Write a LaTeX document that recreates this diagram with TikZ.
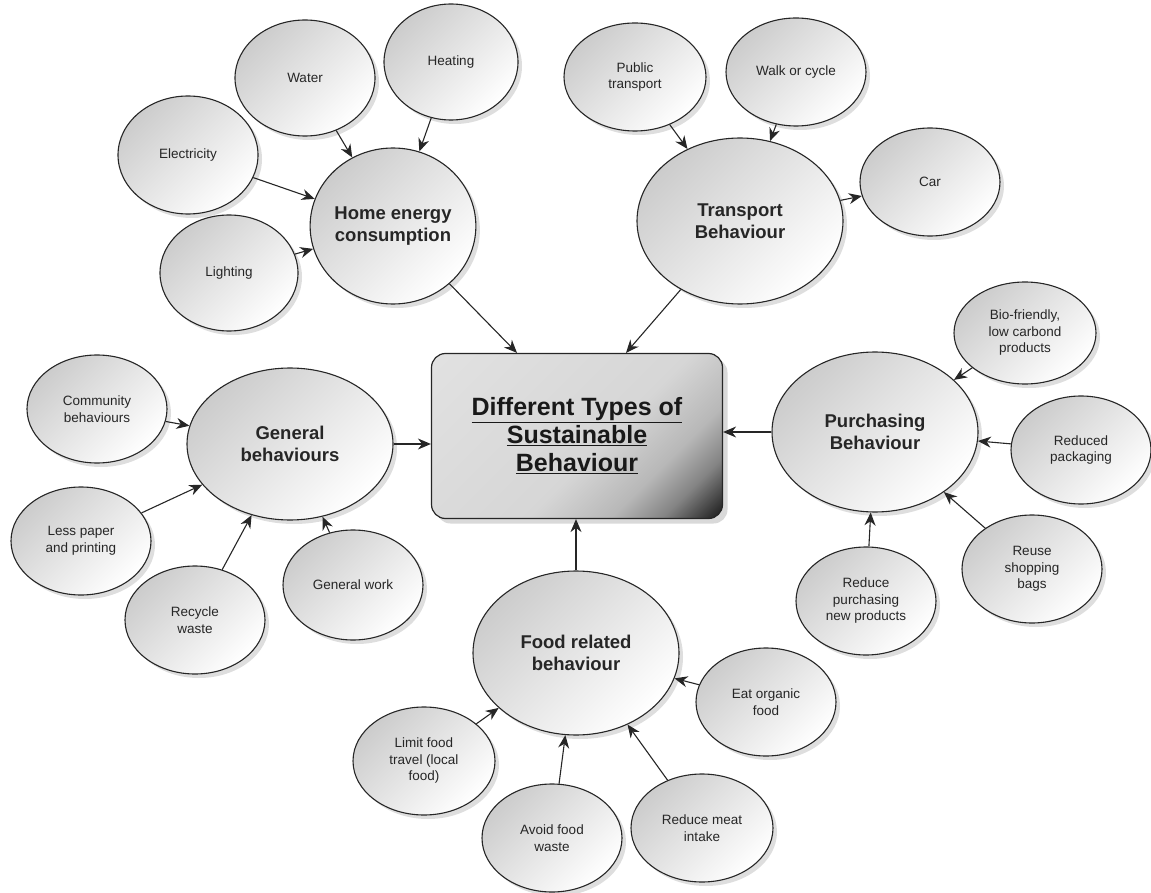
\documentclass[tikz,border=0pt]{standalone}
\usepackage{fontspec}
\setmainfont{Liberation Sans}
\usetikzlibrary{shapes.geometric,arrows.meta,shadows}
\pgfdeclarehorizontalshading{boxsh}{100bp}{color(0bp)=(black!10); color(55bp)=(black!16); color(68bp)=(black!28); color(76bp)=(black!48); color(83bp)=(black!80); color(88bp)=(black); color(100bp)=(black)}
\tikzset{
  bubble/.style={ellipse, draw=black!85, line width=1.1pt, inner sep=0pt,
    left color=black!20, right color=white, shading angle=45,
    drop shadow={shadow xshift=4pt, shadow yshift=-4pt, opacity=0.13, fill=black},
    align=center, text=black!85},
  leaf/.style={bubble, minimum width=140pt, minimum height=108pt, font=\fontsize{13.5}{16.5}\selectfont},
  cat/.style={bubble, font=\bfseries\fontsize{18.5}{22}\selectfont},
  mainbox/.style={rectangle, rounded corners=14pt, draw=black!85, line width=1.2pt,
    shading=boxsh, shading angle=-45, minimum width=291pt, minimum height=165pt,
    drop shadow={shadow xshift=5pt, shadow yshift=-5pt, opacity=0.15, fill=black},
    align=center, font=\bfseries\fontsize{25}{28}\selectfont, text=black!90},
  arr/.style={-{Stealth[length=13pt,width=11pt]}, line width=1.1pt, black!85}
}
\begin{document}
\begin{tikzpicture}[x=1pt,y=-1pt]
\useasboundingbox (0,0) rectangle (1151,893);
% main
\node[mainbox] (main) at (577,436) {\underline{Different Types of}\\\underline{Sustainable}\\\underline{Behaviour}};
% categories
\node[cat, minimum width=150pt, minimum height=156pt] (home) at (393,226) {Home energy\\consumption};
\node[cat, minimum width=206pt, minimum height=166pt] (trans) at (740,221) {Transport\\Behaviour};
\node[cat, minimum width=206pt, minimum height=152pt] (gen) at (290,444) {General\\behaviours};
\node[cat, minimum width=206pt, minimum height=160pt] (purch) at (875,432) {Purchasing\\Behaviour};
\node[cat, minimum width=206pt, minimum height=164pt] (food) at (576,653) {Food related\\behaviour};
% home leaves
\node[leaf, minimum height=116pt] (water) at (305,78) {Water};
\node[leaf, minimum width=134pt, minimum height=116pt] (heat) at (451,62) {Heating};
\node[leaf, minimum height=118pt] (elec) at (188,155) {Electricity};
\node[leaf, minimum width=138pt, minimum height=116pt] (light) at (229,273) {Lighting};
% transport leaves
\node[leaf, minimum width=142pt] (pub) at (635,77) {Public\\transport};
\node[leaf] (walk) at (796,72) {Walk or cycle};
\node[leaf] (car) at (930,182) {Car};
% general leaves
\node[leaf] (comm) at (97,409) {Community\\behaviours};
\node[leaf] (paper) at (81,541) {Less paper\\and printing};
\node[leaf] (recyc) at (195,620) {Recycle\\waste};
\node[leaf, minimum height=110pt] (gwork) at (353,585) {General work};
% purchasing leaves
\node[leaf, minimum width=142pt, minimum height=102pt] (bio) at (1025,333) {Bio-friendly,\\low carbond\\products};
\node[leaf] (pack) at (1081,450) {Reduced\\packaging};
\node[leaf] (bags) at (1032,569) {Reuse\\shopping\\bags};
\node[leaf] (rpnp) at (866,601) {Reduce\\purchasing\\new products};
% food leaves
\node[leaf, minimum width=142pt] (limit) at (424,761) {Limit food\\travel (local\\food)};
\node[leaf] (avoid) at (552,838) {Avoid food\\waste};
\node[leaf, minimum width=142pt] (meat) at (702,828) {Reduce meat\\intake};
\node[leaf] (organic) at (766,702) {Eat organic\\food};
% connectors to main
\draw[arr] (home) -- (main.north west -| 517,0);
\draw[arr] (trans) -- (main.north west -| 626,0);
\draw[arr] (gen.east) -- (main.west |- gen.east);
\draw[arr] (purch.west) -- (main.east |- purch.west);
\draw[arr] (food.north) -- (main.south -| food.north);
% home
\draw[arr] (water) -- (home);
\draw[arr] (heat) -- (home);
\draw[arr] (elec) -- (home);
\draw[arr] (light) -- (home);
% transport
\draw[arr] (pub) -- (trans);
\draw[arr] (walk) -- (trans);
\draw[arr] (trans) -- (car);
% general
\draw[arr] (comm) -- (gen);
\draw[arr] (paper) -- (gen);
\draw[arr] (recyc) -- (gen);
\draw[arr] (gwork) -- (gen);
% purchasing
\draw[arr] (bio) -- (purch);
\draw[arr] (pack) -- (purch);
\draw[arr] (bags) -- (purch);
\draw[arr] (rpnp) -- (purch);
% food
\draw[arr] (limit) -- (food);
\draw[arr] (avoid) -- (food);
\draw[arr] (meat) -- (food);
\draw[arr] (organic) -- (food);
\end{tikzpicture}
\end{document}
